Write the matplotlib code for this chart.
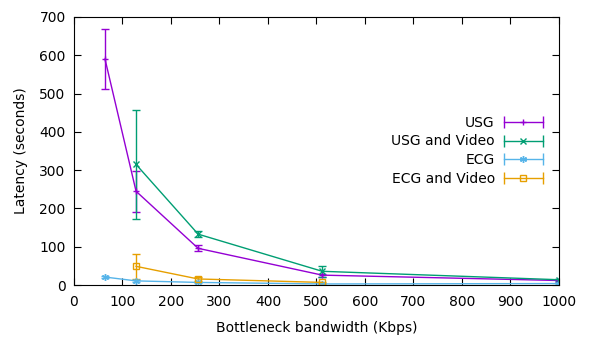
import matplotlib
matplotlib.use("Agg")
import matplotlib.pyplot as plt
from matplotlib.lines import Line2D
from matplotlib.legend_handler import HandlerLine2D, HandlerTuple

# bandwidth (Kbps)
x_all = [64, 128, 256, 512, 1000]
x_usgv = [128, 256, 512, 1000]
x_ecgv = [128, 256, 512]

# latency (seconds) and error
usg = [590, 245, 96, 26, 12]
usg_err = [78, 53, 8, 4, 3]
usgv = [315, 133, 36, 14]
usgv_err = [143, 7, 14, 3]
ecg = [21, 11, 7, 3, 4]
ecg_err = [3, 2, 1, 1, 1]
ecgv = [49, 16, 7]
ecgv_err = [32, 4, 2]

labels = ["USG", "USG and Video", "ECG", "ECG and Video"]
colors = ["#9400D3", "#009E73", "#56B4E9", "#E69F00"]
markers = ["+", "x", (6, 2, 0), "s"]

plt.rcParams["font.family"] = "DejaVu Sans"
plt.rcParams["font.size"] = 10

fig = plt.figure(figsize=(5.89, 3.39), dpi=100)
ax = fig.add_axes([0.1256, 0.159, 0.949 - 0.1256, 0.95 - 0.159])

series = [(x_all, usg, usg_err), (x_usgv, usgv, usgv_err),
          (x_all, ecg, ecg_err), (x_ecgv, ecgv, ecgv_err)]

handles = []
hmap = {}
for (xs, ys, es), lab, c, m in zip(series, labels, colors, markers):
    mfc = "none" if m == "s" else c
    ax.errorbar(xs, ys, yerr=es, color=c, lw=1, marker=m, ms=5,
                mfc=mfc, mew=1, capsize=3, elinewidth=1, capthick=1)
    caps = Line2D([], [], color=c, lw=1, marker="|", ms=8, mew=1)
    mid = Line2D([], [], color=c, lw=0, marker=m, ms=5, mfc=mfc, mew=1)
    hmap[caps] = HandlerLine2D(numpoints=2, marker_pad=0)
    hmap[mid] = HandlerLine2D(numpoints=1)
    handles.append((caps, mid))

hmap[tuple] = HandlerTuple(ndivide=1)
leg = ax.legend(handles, labels, handler_map=hmap,
                loc="upper right", bbox_to_anchor=(0.978, 0.652), frameon=False,
                markerfirst=False, handlelength=2.8, labelspacing=0.33,
                handletextpad=0.65, borderaxespad=0.0)
leg._legend_box.align = "right"

ax.set_xlim(0, 1000)
ax.set_ylim(0, 700)
ax.set_xticks(range(0, 1001, 100))
ax.set_yticks(range(0, 701, 100))
ax.tick_params(direction="in", top=True, right=True, length=5)
ax.tick_params(axis="x", pad=7)
ax.tick_params(axis="y", pad=6)
ax.set_xlabel("Bottleneck bandwidth (Kbps)", labelpad=9)
ax.set_ylabel("Latency (seconds)", labelpad=8)

fig.savefig("out.png", dpi=100)
